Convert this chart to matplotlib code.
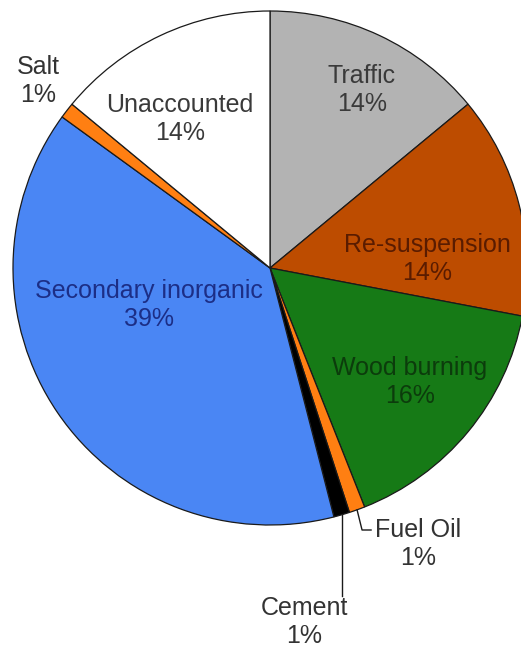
import numpy as np
import matplotlib.pyplot as plt

plt.rcParams['font.family'] = ['Liberation Sans', 'DejaVu Sans']

# source apportionment shares, clockwise from 12 o'clock
sources = ['Traffic', 'Re-suspension', 'Wood burning', 'Fuel Oil', 'Cement',
           'Secondary inorganic', 'Salt', 'Unaccounted']
shares = [14, 14, 16, 1, 1, 39, 1, 14]
colours = ['#b3b3b3', '#bd4c00', '#167a16', '#ff7f12', '#000000',
           '#4a86f4', '#ff7f12', '#ffffff']
text_colours = ['#3a3a3a', '#5a1c00', '#0c3c0c', '#333333', '#333333',
                '#1c2e86', '#333333', '#3a3a3a']

# label anchor points in pixels from the top-left corner of a 521x649 canvas
label_xy = [(362, 90), (427, 259), (410, 382), (418, 544), (304, 622),
            (149, 305), (38, 81), (180, 119)]

W, H = 521, 649
fig = plt.figure(figsize=(W / 100, H / 100), dpi=100)
ax = fig.add_axes([0, 0, 1, 1])

cx, cy, r = 270, H - 268, 257
wedges, _ = ax.pie(shares, colors=colours, startangle=90, counterclock=False,
                   center=(cx, cy), radius=r, frame=True,
                   wedgeprops=dict(edgecolor='#1a1a1a', linewidth=0.9))
ax.set_xlim(0, W)
ax.set_ylim(0, H)
ax.set_aspect('equal')
ax.axis('off')

for name, val, (x, y), tc in zip(sources, shares, label_xy, text_colours):
    ax.text(x, H - y, f'{name}\n{val}%', ha='center', va='center', fontsize=18,
            color=tc, linespacing=1.2)

# leader lines for the two thin slices at the bottom
def edge_point(w):
    mid = np.deg2rad((w.theta1 + w.theta2) / 2)
    return cx + r * np.cos(mid), cy + r * np.sin(mid)

fx, fy = edge_point(wedges[3])
ax.plot([fx, fx + 5, fx + 14], [fy, H - 530, H - 530], color='#1a1a1a', lw=1)
kx, ky = edge_point(wedges[4])
ax.plot([kx, kx], [ky, H - 596], color='#1a1a1a', lw=1)

fig.savefig('out.png', dpi=100)
